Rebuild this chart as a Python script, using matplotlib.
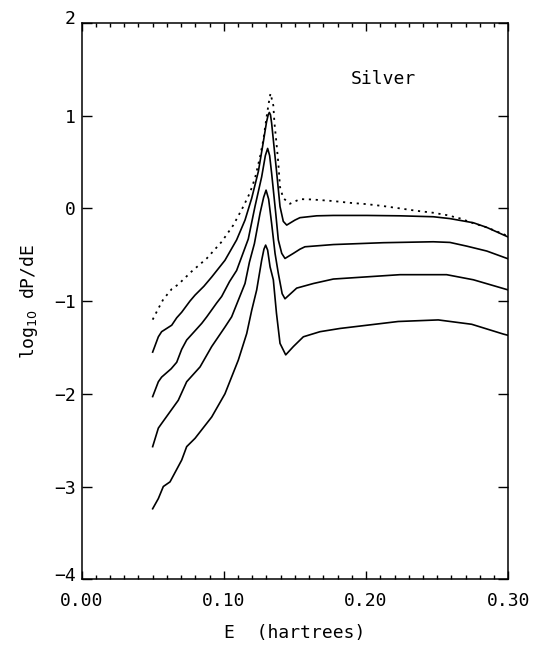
import matplotlib
matplotlib.use("Agg")
import matplotlib.pyplot as plt
from matplotlib.ticker import MultipleLocator, FixedLocator
from matplotlib.transforms import ScaledTranslation

plt.rcParams['font.family'] = ['DejaVu Sans Mono', 'DejaVu Sans']

# Dotted curve (top)
e_dot = [0.0500, 0.0540, 0.0575, 0.0634, 0.0680, 0.0774, 0.0880, 0.0985, 0.1067,
         0.1137, 0.1184, 0.1220, 0.1255, 0.1278, 0.1301, 0.1315, 0.1328, 0.1348,
         0.1356, 0.1366, 0.1383, 0.1395, 0.1418, 0.1465, 0.1535, 0.1606, 0.1676,
         0.1770, 0.1887, 0.2004, 0.2121, 0.2238, 0.2355, 0.2472, 0.2566, 0.2660,
         0.2754, 0.2848, 0.3000]
v_dot = [-1.20, -1.08, -0.98, -0.87, -0.82, -0.68, -0.54, -0.36, -0.18,
         0.02, 0.17, 0.33, 0.56, 0.74, 0.99, 1.13, 1.24, 1.11,
         0.92, 0.77, 0.49, 0.23, 0.11, 0.05, 0.10, 0.097, 0.09,
         0.079, 0.06, 0.046, 0.025, 0.0, -0.026, -0.047, -0.072, -0.108,
         -0.16, -0.205, -0.30]

# Solid curve 1
e_s1 = [0.0500, 0.0540, 0.0563, 0.0634, 0.0669, 0.0704, 0.0762, 0.0798, 0.0860,
        0.0915, 0.1008, 0.1090, 0.1149, 0.1196, 0.1243, 0.1278, 0.1300, 0.1312,
        0.1320, 0.1328, 0.1336, 0.1348, 0.1372, 0.1395, 0.1418, 0.1442, 0.1500,
        0.1535, 0.1653, 0.1770, 0.2004, 0.2238, 0.2472, 0.2589, 0.2754, 0.2848,
        0.3000]
v_s1 = [-1.55, -1.385, -1.33, -1.26, -1.18, -1.12, -1.00, -0.935, -0.84,
        -0.74, -0.56, -0.34, -0.126, 0.11, 0.40, 0.72, 0.93, 1.01,
        1.035, 1.01, 0.92, 0.74, 0.38, 0.02, -0.14, -0.18, -0.126,
        -0.10, -0.08, -0.076, -0.076, -0.08, -0.09, -0.11, -0.155, -0.205,
        -0.31]

# Solid curve 2
e_s2 = [0.0500, 0.0540, 0.0563, 0.0630, 0.0669, 0.0704, 0.0739, 0.0798, 0.0845,
        0.0880, 0.0950, 0.0985, 0.1040, 0.1090, 0.1172, 0.1219, 0.1266, 0.1292,
        0.1308, 0.1322, 0.1336, 0.1365, 0.1383, 0.1407, 0.1430, 0.1489, 0.1535,
        0.1570, 0.1770, 0.2121, 0.2472, 0.2589, 0.2707, 0.2848, 0.3000]
v_s2 = [-2.03, -1.87, -1.82, -1.73, -1.66, -1.52, -1.42, -1.32, -1.24,
        -1.17, -1.02, -0.95, -0.79, -0.67, -0.33, 0.02, 0.34, 0.57,
        0.647, 0.57, 0.38, -0.054, -0.34, -0.485, -0.54, -0.485, -0.44,
        -0.414, -0.39, -0.37, -0.36, -0.367, -0.407, -0.46, -0.545]

# Solid curve 3
e_s3 = [0.0500, 0.0540, 0.0563, 0.0680, 0.0739, 0.0833, 0.0915, 0.1008, 0.1055,
        0.1102, 0.1149, 0.1180, 0.1215, 0.1255, 0.1280, 0.1297, 0.1315, 0.1336,
        0.1360, 0.1383, 0.1410, 0.1430, 0.1512, 0.1630, 0.1770, 0.2238, 0.2566,
        0.2754, 0.2977, 0.3000]
v_s3 = [-2.57, -2.37, -2.32, -2.07, -1.87, -1.71, -1.49, -1.28, -1.17,
        -0.99, -0.81, -0.58, -0.38, -0.05, 0.12, 0.197, 0.10, -0.162,
        -0.485, -0.70, -0.92, -0.975, -0.86, -0.81, -0.762, -0.715, -0.715,
        -0.77, -0.87, -0.88]

# Solid curve 4
e_s4 = [0.0500, 0.0540, 0.0575, 0.0622, 0.0704, 0.0739, 0.0798, 0.0915, 0.1008,
        0.1102, 0.1161, 0.1196, 0.1231, 0.1266, 0.1282, 0.1294, 0.1308, 0.1325,
        0.1348, 0.1370, 0.1395, 0.1435, 0.1489, 0.1559, 0.1676, 0.1817, 0.2225,
        0.2507, 0.2742, 0.2965, 0.3000]
v_s4 = [-3.24, -3.13, -3.00, -2.95, -2.715, -2.57, -2.48, -2.25, -2.00,
        -1.636, -1.35, -1.10, -0.88, -0.56, -0.44, -0.396, -0.45, -0.63,
        -0.77, -1.13, -1.456, -1.58, -1.49, -1.385, -1.33, -1.295, -1.22,
        -1.203, -1.25, -1.356, -1.37]

x_ticks = [0.00, 0.10, 0.20, 0.30]
x_tick_labels = ["0.00", "0.10", "0.20", "0.30"]
y_ticks = [-4, -3, -2, -1, 0, 1, 2]
y_tick_labels = ["\u22124", "\u22123", "\u22122", "\u22121", "0", "1", "2"]

fig = plt.figure(figsize=(5.38, 6.46), dpi=100)
ax = fig.add_axes([0.1515, 0.1034, 0.7935, 0.861])

ax.plot(e_dot, v_dot, color='black', lw=1.3, linestyle=(0, (1.2, 2.6)))
for e, v in [(e_s1, v_s1), (e_s2, v_s2), (e_s3, v_s3), (e_s4, v_s4)]:
    ax.plot(e, v, color='black', lw=1.2)

ax.set_xlim(0, 0.30)
ax.set_ylim(-4, 2)
ax.xaxis.set_major_locator(FixedLocator(x_ticks))
ax.set_xticklabels(x_tick_labels)
ax.xaxis.set_minor_locator(MultipleLocator(0.01))
ax.yaxis.set_major_locator(FixedLocator(y_ticks))
ax.set_yticklabels(y_tick_labels)

ax.tick_params(axis='both', which='both', direction='in', top=True, right=True,
               labelsize=13, width=1.0)
ax.tick_params(axis='x', which='major', length=6, pad=9)
ax.tick_params(axis='x', which='minor', length=3)
ax.tick_params(axis='y', which='major', length=7, pad=4)
for s in ax.spines.values():
    s.set_linewidth(1.1)

# end labels sit slightly above their ticks in the reference
ylabels = ax.get_yticklabels()
for lab in (ylabels[0], ylabels[-1]):
    lab.set_transform(lab.get_transform() + ScaledTranslation(0, 4 / 72, fig.dpi_scale_trans))

ax.set_xlabel("E  (hartrees)", fontsize=13, labelpad=10)
ax.set_ylabel("log$_{10}$ dP/dE", fontsize=13, labelpad=10)
ax.text(0.189, 1.40, "Silver", fontsize=13, ha='left', va='center')

fig.savefig("out.png", dpi=100)
